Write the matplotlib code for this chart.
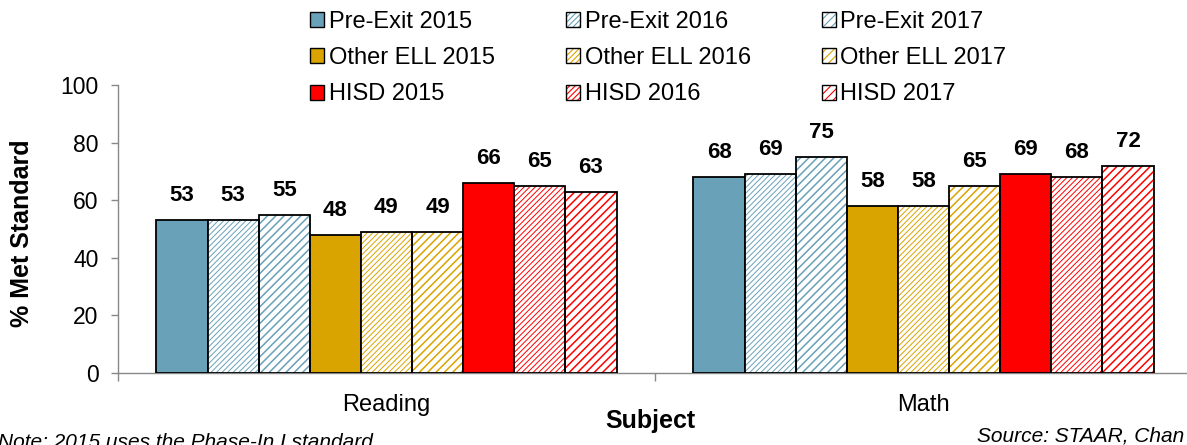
import matplotlib
matplotlib.use("Agg")
import matplotlib.pyplot as plt
from matplotlib.patches import Patch
from matplotlib.legend_handler import HandlerTuple
import numpy as np

plt.rcParams['font.family'] = ['Liberation Sans', 'DejaVu Sans']
plt.rcParams['hatch.linewidth'] = 0.8

subjects = ["Reading", "Math"]
series_names = ["Pre-Exit 2015", "Pre-Exit 2016", "Pre-Exit 2017",
                "Other ELL 2015", "Other ELL 2016", "Other ELL 2017",
                "HISD 2015", "HISD 2016", "HISD 2017"]
pre_exit_2015 = [53, 68]
pre_exit_2016 = [53, 69]
pre_exit_2017 = [55, 75]
other_ell_2015 = [48, 58]
other_ell_2016 = [49, 58]
other_ell_2017 = [49, 65]
hisd_2015 = [66, 69]
hisd_2016 = [65, 68]
hisd_2017 = [63, 72]
y_ticks = [0, 20, 40, 60, 80, 100]

values = [pre_exit_2015, pre_exit_2016, pre_exit_2017,
          other_ell_2015, other_ell_2016, other_ell_2017,
          hisd_2015, hisd_2016, hisd_2017]
group_colors = ["#68a1b8", "#d9a400", "#ff0000"]
hatches = [None, "//////", "////"]
hatch_lws = [0.8, 0.7, 1.1]

fig = plt.figure(figsize=(11.87, 4.45), dpi=100)
ax = fig.add_axes([118/1187, 72/445, 1074/1187, 288/445])

x = np.arange(len(subjects))
bw = 0.0952
handles = {}
for i, (name, vals) in enumerate(zip(series_names, values)):
    g, s = divmod(i, 3)
    col = group_colors[g]
    pos = x + (i - 4) * bw
    with plt.rc_context({'hatch.linewidth': hatch_lws[s]}):
        if hatches[s] is None:
            bars = ax.bar(pos, vals, bw, color=col, edgecolor="black", linewidth=1.3, zorder=3)
            h = Patch(facecolor=col, edgecolor="black", linewidth=1.0)
        else:
            ax.bar(pos, vals, bw, facecolor="white", edgecolor=col, hatch=hatches[s],
                   linewidth=0, zorder=3)
            bars = ax.bar(pos, vals, bw, fill=False, edgecolor="black", linewidth=1.3, zorder=4)
            h = (Patch(facecolor="white", edgecolor=col, hatch=hatches[s], linewidth=0),
                 Patch(fill=False, edgecolor="black", linewidth=1.0))
    handles[name] = h
    for b, v in zip(bars, vals):
        ax.annotate(f"{v}", (b.get_x() + b.get_width()/2, v), xytext=(0, 10),
                    textcoords="offset points", ha="center", va="bottom",
                    fontsize=16, fontweight="bold", zorder=5)

ax.set_xlim(-0.5, 1.5)
ax.set_ylim(0, 100)
ax.set_yticks(y_ticks)
ax.set_xticks(x)
ax.set_xticklabels(subjects)
ax.set_xticks([-0.5, 0.5, 1.5], minor=True)
ax.tick_params(axis="x", which="major", length=0, pad=15, labelsize=17)
ax.tick_params(axis="x", which="minor", length=6, color="#888888", width=1)
ax.tick_params(axis="y", length=5, color="#888888", width=1, labelsize=16.5, pad=9)
for sp in ["top", "right"]:
    ax.spines[sp].set_visible(False)
for sp in ["left", "bottom"]:
    ax.spines[sp].set_color("#888888")
    ax.spines[sp].set_linewidth(1)

fig.text(22/1187, 1 - 233/445, "% Met Standard", rotation=90, ha="center", va="center",
         fontsize=18, fontweight="bold")
fig.text(650/1187, 1 - 421/445, "Subject", ha="center", va="center",
         fontsize=18, fontweight="bold")
fig.text(-2/1187, 1 - 448/445, "Note: 2015 uses the Phase-In I standard", ha="left",
         va="baseline", fontsize=15, style="italic")
fig.text(1184/1187, 1 - 441/445, "Source: STAAR, Chan", ha="right", va="baseline",
         fontsize=15, style="italic")

order = ["Pre-Exit 2015", "Other ELL 2015", "HISD 2015",
         "Pre-Exit 2016", "Other ELL 2016", "HISD 2016",
         "Pre-Exit 2017", "Other ELL 2017", "HISD 2017"]
leg = fig.legend([handles[n] for n in order], order, ncol=3, loc="upper left",
                 bbox_to_anchor=(310/1187, 1.0 - 11/445), frameon=False, fontsize=17,
                 handlelength=0.6, handleheight=0.6, handletextpad=0.2,
                 columnspacing=3.0, labelspacing=0.6, borderaxespad=0.0,
                 borderpad=0.0,
                 handler_map={tuple: HandlerTuple(ndivide=1)})

fig.savefig("out.png", dpi=100)
